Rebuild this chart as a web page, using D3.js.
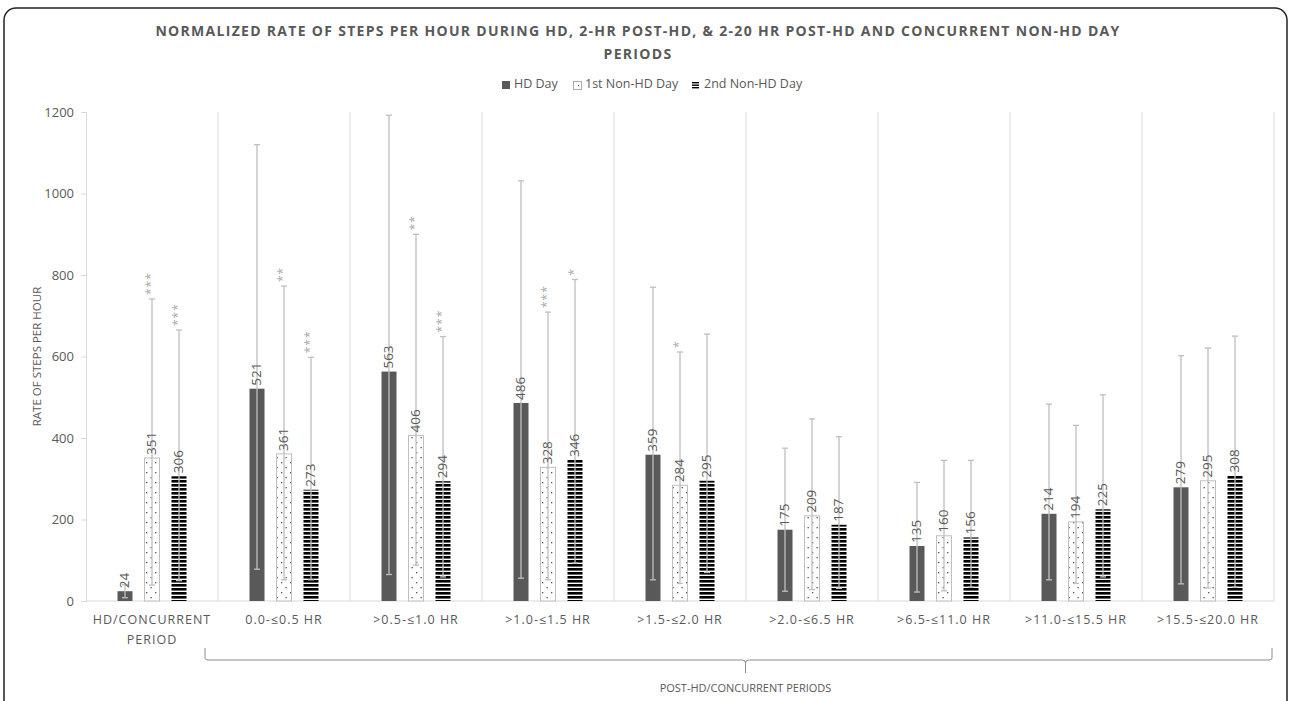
<!DOCTYPE html>
<html>
<head>
<meta charset="utf-8">
<script src="https://cdn.jsdelivr.net/npm/d3@7"></script>
<style>
  body { margin: 0; background: #fff; }
  svg { font-family: "Open Sans", sans-serif; }
</style>
</head>
<body>
<svg id="svg" width="1292" height="701"></svg>
<script>
// data
const categories = ["HD/CONCURRENT PERIOD", "0.0-≤0.5 HR", ">0.5-≤1.0 HR", ">1.0-≤1.5 HR", ">1.5-≤2.0 HR",
    ">2.0-≤6.5 HR", ">6.5-≤11.0 HR", ">11.0-≤15.5 HR", ">15.5-≤20.0 HR"];
const seriesNames = ["HD Day", "1st Non-HD Day", "2nd Non-HD Day"];

const hdDay = [24, 521, 563, 486, 359, 175, 135, 214, 279];
const nonHd1 = [351, 361, 406, 328, 284, 209, 160, 194, 295];
const nonHd2 = [306, 273, 294, 346, 295, 187, 156, 225, 308];

const hdUpper = [40, 1120, 1192, 1031, 770, 375, 291, 483, 602];
const hdLower = [8, 78, 65, 56, 52, 24, 22, 52, 42];
const nonHd1Upper = [741, 773, 900, 709, 611, 447, 345, 431, 621];
const nonHd1Lower = [39, 52, 88, 52, 43, 28, 25, 43, 32];
const nonHd2Upper = [665, 598, 649, 789, 655, 403, 345, 506, 650];
const nonHd2Lower = [50, 52, 59, 93, 70, 31, 34, 59, 34];

const hdSig = ["", "", "", "", "", "", "", "", ""];
const nonHd1Sig = ["***", "**", "**", "***", "*", "", "", "", ""];
const nonHd2Sig = ["***", "***", "***", "*", "", "", "", "", ""];

const yTicks = [0, 200, 400, 600, 800, 1000, 1200];

const series = [
    { name: seriesNames[0], values: hdDay, upper: hdUpper, lower: hdLower, sig: hdSig, fill: "#595959" },
    { name: seriesNames[1], values: nonHd1, upper: nonHd1Upper, lower: nonHd1Lower, sig: nonHd1Sig, fill: "url(#dots)" },
    { name: seriesNames[2], values: nonHd2, upper: nonHd2Upper, lower: nonHd2Lower, sig: nonHd2Sig, fill: "url(#stripes)" }
];

const textColor = "#595959";
const gridColor = "#d9d9d9";
const svg = d3.select("#svg");

// patterns
const defs = svg.append("defs");
const dots = defs.append("pattern").attr("id", "dots")
    .attr("patternUnits", "userSpaceOnUse").attr("width", 9).attr("height", 10);
dots.append("rect").attr("width", 9).attr("height", 10).attr("fill", "#fff");
dots.append("rect").attr("x", 2).attr("y", 2).attr("width", 1.3).attr("height", 1.3).attr("fill", "#555");
dots.append("rect").attr("x", 6.5).attr("y", 7).attr("width", 1.3).attr("height", 1.3).attr("fill", "#555");

const stripes = defs.append("pattern").attr("id", "stripes")
    .attr("patternUnits", "userSpaceOnUse").attr("width", 10).attr("height", 4);
stripes.append("rect").attr("width", 10).attr("height", 4).attr("fill", "#fff");
stripes.append("rect").attr("y", 0).attr("width", 10).attr("height", 2.6).attr("fill", "#000");

// frame
svg.append("rect")
    .attr("x", 4).attr("y", 8).attr("width", 1283).attr("height", 720)
    .attr("rx", 12)
    .attr("fill", "none").attr("stroke", "#222").attr("stroke-width", 1.5);

// title
const title = svg.append("text")
    .attr("text-anchor", "middle")
    .attr("font-size", 14).attr("font-weight", "bold")
    .attr("letter-spacing", 1.3)
    .attr("fill", textColor);
title.append("tspan").attr("x", 638).attr("y", 36)
    .text("NORMALIZED RATE OF STEPS PER HOUR DURING HD, 2-HR POST-HD, & 2-20 HR POST-HD AND CONCURRENT NON-HD DAY");
title.append("tspan").attr("x", 638).attr("y", 59).text("PERIODS");

// scales
const plotLeft = 86, plotRight = 1274, plotTop = 112, plotBottom = 601;
const x0 = d3.scaleBand().domain(categories).range([plotLeft, plotRight]).padding(0);
const x1 = d3.scaleBand().domain(seriesNames).range([0, 81]).padding(0);
const y = d3.scaleLinear().domain([0, 1200]).range([plotBottom, plotTop]);
const barW = 15;
const groupOffset = (x0.bandwidth() - 81) / 2;
const cx = (i, name) => x0(categories[i]) + groupOffset + x1(name) + x1.bandwidth() / 2;

// vertical separators
svg.append("g").selectAll("line")
    .data(categories.slice(1).map(c => x0(c)).concat([plotRight]))
    .join("line")
    .attr("x1", d => d).attr("x2", d => d)
    .attr("y1", plotTop).attr("y2", plotBottom)
    .attr("stroke", gridColor).attr("stroke-width", 1);

// y axis
const yAxis = svg.append("g")
    .attr("transform", `translate(${plotLeft},0)`)
    .call(d3.axisLeft(y).tickValues(yTicks).tickSize(5).tickPadding(7).tickFormat(d3.format("d")));
yAxis.select(".domain").attr("stroke", gridColor);
yAxis.selectAll(".tick line").attr("stroke", gridColor);
yAxis.selectAll(".tick text").attr("fill", textColor).attr("font-size", 13)
    .attr("font-family", "Open Sans, sans-serif");

svg.append("text")
    .attr("transform", `translate(38,${(plotTop + plotBottom) / 2}) rotate(-90)`)
    .attr("text-anchor", "middle")
    .attr("dominant-baseline", "middle")
    .attr("font-size", 11.5)
    .attr("fill", textColor)
    .text("RATE OF STEPS PER HOUR");

// x axis line
svg.append("line")
    .attr("x1", plotLeft).attr("x2", plotRight)
    .attr("y1", plotBottom).attr("y2", plotBottom)
    .attr("stroke", gridColor).attr("stroke-width", 1.2);

// category labels
const catLabels = svg.append("g").selectAll("text")
    .data(categories)
    .join("text")
    .attr("text-anchor", "middle")
    .attr("font-size", 12.5)
    .attr("letter-spacing", 1)
    .attr("fill", textColor);
catLabels.each(function (d) {
    const xc = x0(d) + x0.bandwidth() / 2;
    const lines = d === categories[0] ? ["HD/CONCURRENT", "PERIOD"] : [d];
    d3.select(this).selectAll("tspan").data(lines).join("tspan")
        .attr("x", xc)
        .attr("y", (l, k) => 624 + k * 20)
        .text(l => l);
});

// bars
series.forEach(s => {
    const g = svg.append("g");
    g.selectAll("rect")
        .data(s.values)
        .join("rect")
        .attr("x", (v, i) => cx(i, s.name) - barW / 2)
        .attr("y", v => y(v))
        .attr("width", barW)
        .attr("height", v => plotBottom - y(v))
        .attr("fill", s.fill)
        .attr("stroke", s.name === seriesNames[1] ? "#bfbfbf" : "none")
        .attr("stroke-width", 1);
});

// error bars, labels, asterisks
series.forEach(s => {
    const g = svg.append("g");
    s.values.forEach((v, i) => {
        const xc = cx(i, s.name);
        const yu = y(s.upper[i]), yl = y(s.lower[i]);
        g.append("line").attr("x1", xc).attr("x2", xc).attr("y1", yu).attr("y2", yl)
            .attr("stroke", "#bfbfbf").attr("stroke-width", 1.3);
        [yu, yl].forEach(yy => {
            g.append("line").attr("x1", xc - 3).attr("x2", xc + 3).attr("y1", yy).attr("y2", yy)
                .attr("stroke", "#bfbfbf").attr("stroke-width", 1.3);
        });
        g.append("text")
            .attr("transform", `translate(${xc},${y(v) - 3}) rotate(-90)`)
            .attr("dominant-baseline", "middle")
            .attr("font-size", 13.5)
            .attr("fill", textColor)
            .text(v);
        if (s.sig[i]) {
            g.append("text")
                .attr("transform", `translate(${xc},${yu - 4}) rotate(-90)`)
                .attr("dominant-baseline", "middle")
                .attr("font-size", 12)
                .attr("letter-spacing", 1)
                .attr("fill", "#a6a6a6")
                .text(s.sig[i]);
        }
    });
});

// legend
const legend = svg.append("g").attr("transform", "translate(0,85)");
const legendX = [502, 573, 692];
seriesNames.forEach((name, k) => {
    const lg = legend.append("g").attr("transform", `translate(${legendX[k]},0)`);
    if (k === 0) {
        lg.append("rect").attr("x", 0).attr("y", -4).attr("width", 8).attr("height", 8).attr("fill", "#595959");
    } else if (k === 1) {
        lg.append("rect").attr("x", 0.5).attr("y", -3.5).attr("width", 8).attr("height", 8)
            .attr("fill", "#fff").attr("stroke", "#999").attr("stroke-width", 0.8);
        lg.append("rect").attr("x", 5).attr("y", 0).attr("width", 1.2).attr("height", 1.2).attr("fill", "#555");
    } else {
        [-3, -0.5, 2].forEach(yy => lg.append("rect").attr("x", 0).attr("y", yy).attr("width", 7).attr("height", 1.4).attr("fill", "#000"));
    }
    lg.append("text").attr("x", 12).attr("y", 0)
        .attr("dominant-baseline", "middle")
        .attr("font-size", 12.5)
        .attr("fill", textColor)
        .text(name);
});

// brace under post-HD periods
const braceLeft = x0(categories[1]) - 13, braceRight = plotRight - 2;
const braceMid = (braceLeft + braceRight) / 2 + 7;
const braceY = 660;
const brace = d3.path();
brace.moveTo(braceLeft, 648);
brace.lineTo(braceLeft, braceY - 2);
brace.quadraticCurveTo(braceLeft, braceY, braceLeft + 3, braceY);
brace.lineTo(braceMid - 3, braceY);
brace.quadraticCurveTo(braceMid, braceY, braceMid, braceY + 3);
brace.lineTo(braceMid, 673);
brace.moveTo(braceMid, braceY + 3);
brace.quadraticCurveTo(braceMid, braceY, braceMid + 3, braceY);
brace.lineTo(braceRight - 3, braceY);
brace.quadraticCurveTo(braceRight, braceY, braceRight, braceY - 2);
brace.lineTo(braceRight, 648);
svg.append("path").attr("d", brace.toString())
    .attr("fill", "none").attr("stroke", "#8c8c8c").attr("stroke-width", 1);

svg.append("text")
    .attr("x", braceMid).attr("y", 692)
    .attr("text-anchor", "middle")
    .attr("font-size", 11)
    .attr("fill", textColor)
    .text("POST-HD/CONCURRENT PERIODS");
</script>
</body>
</html>
